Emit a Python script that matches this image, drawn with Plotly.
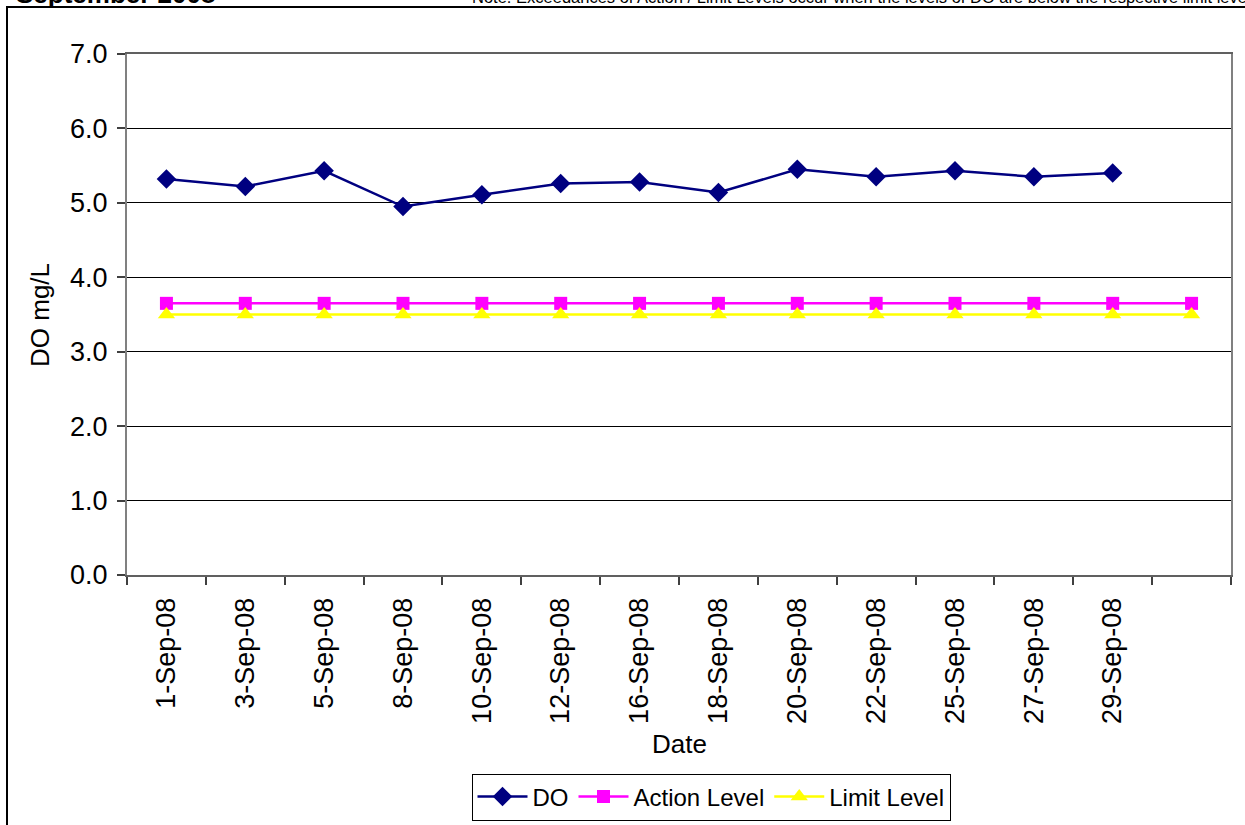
import plotly.graph_objects as go

dates = ["1-Sep-08", "3-Sep-08", "5-Sep-08", "8-Sep-08", "10-Sep-08", "12-Sep-08",
         "16-Sep-08", "18-Sep-08", "20-Sep-08", "22-Sep-08", "25-Sep-08", "27-Sep-08",
         "29-Sep-08"]
categories = dates + [" "]
do_values = [5.32, 5.22, 5.43, 4.95, 5.11, 5.26, 5.28, 5.14, 5.45, 5.35, 5.43, 5.35, 5.40]
action_level = [3.65] * 14
limit_level = [3.5] * 14
y_ticks = [0, 1, 2, 3, 4, 5, 6, 7]

W, H = 1245, 825
L, R, T, B = 127, 14, 54, 250
pw, ph = W - L - R, H - T - B

def px(x):
    return (x - L) / pw

def py(y):
    return (H - B - y) / ph

FONT = "Liberation Sans, Arial, sans-serif"

fig = go.Figure()
fig.add_trace(go.Scatter(x=dates, y=do_values, name="DO", mode="lines+markers",
                         line=dict(color="#000080", width=2.5),
                         marker=dict(symbol="diamond", size=15, color="#000080")))
fig.add_trace(go.Scatter(x=categories, y=action_level, name="Action Level", mode="lines+markers",
                         line=dict(color="#FF00FF", width=2.5),
                         marker=dict(symbol="square", size=13, color="#FF00FF")))
fig.add_trace(go.Scatter(x=categories, y=limit_level, name="Limit Level", mode="lines+markers",
                         line=dict(color="#FFFF00", width=2.5),
                         marker=dict(symbol="triangle-up", size=15, color="#FFFF00")))

fig.update_layout(
    width=W, height=H,
    margin=dict(l=L, r=R, t=T, b=B, pad=0, autoexpand=False),
    paper_bgcolor="white", plot_bgcolor="white",
    font=dict(family=FONT, size=25, color="black"),
    showlegend=True,
    legend=dict(orientation="h", x=px(711), y=py(797), xanchor="center", yanchor="middle",
                bordercolor="black", borderwidth=1, font=dict(size=24),
                bgcolor="white", itemwidth=50),
    xaxis=dict(type="category", categoryorder="array", categoryarray=categories,
               range=[-0.5, 13.5], tickson="boundaries", ticks="outside", ticklen=8,
               tickcolor="#404040", tickwidth=1.5, tickangle=-90,
               showline=True, linecolor="#606060", linewidth=2, mirror=True,
               showgrid=False, zeroline=False, ticklabelstandoff=10, automargin=False,
               tickfont=dict(size=27)),
    yaxis=dict(range=[0, 7], tickvals=y_ticks, tickformat=".1f", ticks="outside",
               ticklen=8, tickcolor="#404040", tickwidth=1.5,
               showline=True, linecolor="#808080", linewidth=2, mirror=True,
               showgrid=True, gridcolor="black", gridwidth=1, zeroline=False,
               ticklabelstandoff=4, automargin=False, tickfont=dict(size=27)),
    annotations=[
        dict(text="DO mg/L", x=px(40), y=py(315), xref="paper", yref="paper",
             xanchor="center", yanchor="middle",
             textangle=-90, showarrow=False, font=dict(size=26)),
        dict(text="Date", x=px(679), y=py(744), xref="paper", yref="paper",
             xanchor="center", yanchor="middle",
             showarrow=False, font=dict(size=26)),
        dict(text="<b>September 2008</b>", x=px(14), y=py(11), xref="paper", yref="paper",
             xanchor="left", yanchor="bottom", showarrow=False, font=dict(size=26)),
        dict(text="Note: Exceedances of Action / Limit Levels occur when the levels of DO are below the respective limit levels.",
             x=px(470), y=py(8), xref="paper", yref="paper",
             xanchor="left", yanchor="bottom", showarrow=False, font=dict(size=16.5)),
    ],
    shapes=[
        dict(type="rect", xref="paper", yref="paper",
             x0=px(7), x1=px(1300), y0=py(7), y1=py(900),
             line=dict(color="black", width=2), layer="below"),
    ],
)

fig.write_html("out.html", config={"displayModeBar": False},
               post_script="document.body.style.margin='0px';")
